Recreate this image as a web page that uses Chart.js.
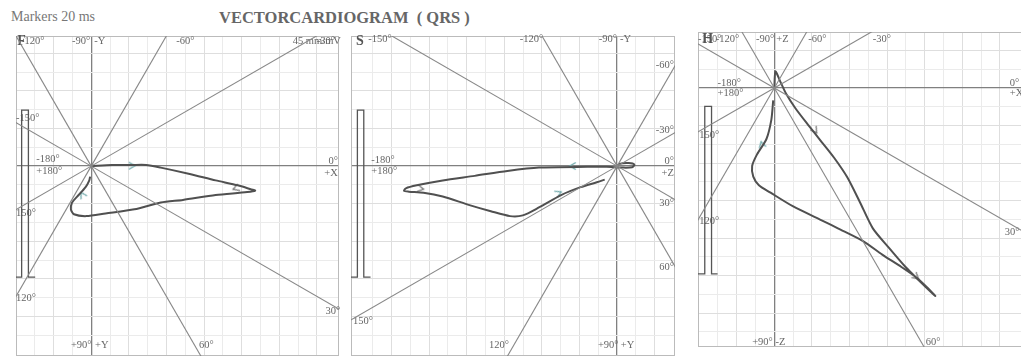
<!DOCTYPE html>
<html>
<head>
<meta charset="utf-8">
<script src="https://cdn.jsdelivr.net/npm/chart.js@4.4.0/dist/chart.umd.min.js"></script>
<style>
body { margin:0; width:1021px; height:356px; overflow:hidden; background:#fff; position:relative; font-family:"Liberation Serif", serif; }
canvas { position:absolute; }
#markers { position:absolute; left:11px; top:9px; font-size:14px; color:#777; }
#title { position:absolute; left:219px; top:8px; font-size:16.5px; font-weight:bold; color:#666; white-space:pre; }
</style>
</head>
<body>
<div id="markers">Markers 20 ms</div>
<div id="title">VECTORCARDIOGRAM  ( QRS )</div>
<canvas id="frontal" width="335" height="332" style="left:10px;top:30px"></canvas>
<canvas id="sagittal" width="336" height="332" style="left:345px;top:30px"></canvas>
<canvas id="horizontal" width="338" height="327" style="left:692px;top:26px"></canvas>
<script>
// angle lines drawn from the origin (0/90/180 are the axes)
const angles = [-150, -120, -60, -30, 30, 60, 120, 150];

// QRS loops, in grid units (y grows downward)
const frontalX = [0, 0.56, 1.08, 1.46, 1.85, 2.62, 3.31, 3.90, 4.26, 4.36, 4.15, 3.31, 2.44, 1.85, 1.15, 0.38, -0.13, -0.46, -0.54, -0.51, -0.38, -0.15, -0.05, -0.03];
const frontalY = [0, -0.03, -0.03, -0.03, 0.04, 0.21, 0.38, 0.51, 0.62, 0.65, 0.69, 0.77, 0.90, 0.97, 1.15, 1.26, 1.33, 1.28, 1.15, 0.97, 0.82, 0.56, 0.38, 0.28];

const sagittalX = [0, 0.06, 0.31, 0.46, 0.40, 0.15, -0.28, -0.79, -2.08, -2.92, -3.79, -4.64, -5.33, -5.62, -5.67, -5.54, -5.15, -4.64, -3.95, -3.36, -2.85, -2.51, -2.08, -1.49, -0.97, -0.54, -0.33];
const sagittalY = [0, -0.06, -0.08, -0.04, 0.03, 0.04, 0.02, 0.02, 0.04, 0.13, 0.26, 0.38, 0.51, 0.59, 0.66, 0.68, 0.71, 0.81, 1.03, 1.20, 1.33, 1.31, 1.10, 0.77, 0.56, 0.43, 0.36];

const horizX = [0, 0.03, 0.15, 0.31, 0.56, 0.92, 1.26, 1.59, 1.94, 2.28, 2.62, 3.05, 3.49, 3.82, 4.28, 4.08, 3.82, 3.38, 2.87, 2.36, 1.69, 1.33, 0.49, -0.10, -0.41, -0.56, -0.59, -0.46, -0.21, -0.08, -0.03];
const horizY = [0, -0.44, -0.19, 0.15, 0.54, 1.01, 1.44, 1.86, 2.38, 3.05, 3.74, 4.26, 4.77, 5.10, 5.54, 5.33, 5.08, 4.77, 4.44, 4.08, 3.74, 3.56, 3.15, 2.79, 2.59, 2.36, 2.08, 1.77, 1.36, 0.85, 0.33];

// calibration pulses
const pulseFX = [-2.0, -1.85, -1.85, -1.67, -1.67, -1.49];
const pulseSX = [-7.08, -6.91, -6.91, -6.74, -6.74, -6.56];
const pulseHX = [-2.03, -1.85, -1.85, -1.67, -1.67, -1.51];
const pulseFY = [2.95, 2.95, -1.49, -1.49, 2.95, 2.95];
const pulseHY = [4.95, 4.95, 0.49, 0.49, 4.95, 4.95];

// time markers: x, y, direction (deg), teal?
const markersF = [[1.08, -0.01, 0, 1], [-0.23, 0.77, -120, 1], [3.85, 0.59, 160, 0]];
const markersS = [[-1.18, 0.0, 180, 1], [-1.56, 0.72, -25, 1], [-5.23, 0.60, 10, 0]];
const markersH = [[1.08, 1.13, 55, 0], [-0.33, 1.51, -105, 1], [3.77, 5.03, 40, 0]];

// labels: text, x, y, align, bold
const labelsF = [
	["-120°", -1.87, -3.33], ["F", -1.97, -3.31, "left", 1], ["-90°", -0.51, -3.33], ["-Y", 0.08, -3.33],
	["-60°", 2.26, -3.33], ["45 mm/mV", 5.36, -3.33], ["-30°", 6.0, -3.33],
	["0°", 6.56, -0.13, "right"], ["+X", 6.56, 0.18, "right"],
	["-180°", -1.46, -0.18], ["+180°", -1.46, 0.15],
	["-150°", -2.0, -1.28], ["150°", -2.0, 1.26], ["120°", -2.0, 3.51],
	["30°", 6.23, 3.85], ["60°", 2.87, 4.77], ["+90°", -0.54, 4.77], ["+Y", 0.10, 4.77]
];
const labelsS = [
	["S", -6.95, -3.31, "left", 1], ["-150°", -6.62, -3.38], ["-120°", -2.59, -3.38],
	["-90°", -0.49, -3.38], ["-Y", 0.08, -3.38],
	["-60°", 1.51, -2.69, "right"], ["-30°", 1.51, -0.95, "right"],
	["0°", 1.51, -0.13, "right"], ["+Z", 1.51, 0.18, "right"],
	["-180°", -6.54, -0.15], ["+180°", -6.54, 0.15],
	["30°", 1.51, 1.0, "right"], ["60°", 1.51, 2.69, "right"],
	["+90°", -0.51, 4.77], ["+Y", 0.10, 4.77], ["120°", -3.41, 4.77], ["150°", -7.03, 4.13]
];
const labelsH = [
	["-150°", -2.03, -1.31], ["H", -1.92, -1.28, "left", 1], ["-120°", -1.56, -1.31],
	["-90°", -0.49, -1.31], ["+Z", 0.05, -1.31], ["-60°", 0.90, -1.31], ["-30°", 2.62, -1.31],
	["-180°", -1.51, -0.13], ["+180°", -1.51, 0.15],
	["150°", -2.0, 1.26], ["120°", -2.0, 3.54], ["30°", 6.13, 3.85],
	["0°", 6.26, -0.13], ["+X", 6.26, 0.15],
	["+90°", -0.59, 6.77], ["-Z", 0.03, 6.77], ["60°", 4.03, 6.77]
];

function chevron(color) {
	const c = document.createElement("canvas");
	c.width = 10;
	c.height = 10;
	const g = c.getContext("2d");
	g.strokeStyle = color;
	g.lineWidth = 1.4;
	g.beginPath();
	g.moveTo(2, 1.5);
	g.lineTo(8, 5);
	g.lineTo(2, 8.5);
	g.stroke();
	return c;
}
const tealArrow = chevron("#6fa9ab");
const grayArrow = chevron("#777");

const zip = (xs, ys) => xs.map((x, i) => ({ x: x, y: ys[i] }));

const panelPlugin = {
	id: "panel",
	beforeDatasetsDraw(chart, args, opts) {
		const ctx = chart.ctx;
		const a = chart.chartArea;
		const sx = chart.scales.x, sy = chart.scales.y;
		ctx.save();
		ctx.strokeStyle = "#bbb";
		ctx.lineWidth = 1;
		ctx.strokeRect(a.left + 0.5, a.top + 0.5, a.right - a.left - 1, a.bottom - a.top - 1);
		ctx.textBaseline = "middle";
		for (const l of opts.labels) {
			ctx.font = l[4] ? 'bold 14px "Liberation Serif"' : '10.5px "Liberation Serif"';
			ctx.fillStyle = l[4] ? "#555" : "#666";
			ctx.textAlign = l[3] || "left";
			ctx.fillText(l[0], sx.getPixelForValue(l[1]), sy.getPixelForValue(l[2]));
		}
		ctx.restore();
	},
};

function gridColor(c) {
	const v = c.tick.value;
	if (Math.abs(v) < 1e-9) return "#808080";
	if (Math.abs(v * 2 - Math.round(v * 2)) > 1e-6) return "rgba(0,0,0,0)";
	return Math.abs(v - Math.round(v)) < 1e-6 ? "#dedede" : "#ebebeb";
}

function makePanel(id, xr, yr, loopX, loopY, pX, pY, markers, labels) {
	const datasets = angles.map((a) => ({
		data: [{ x: 0, y: 0 }, { x: 20 * Math.cos((a * Math.PI) / 180), y: 20 * Math.sin((a * Math.PI) / 180) }],
		showLine: true,
		borderColor: "#888",
		borderWidth: 1.1,
		pointRadius: 0,
	}));
	datasets.push({
		data: zip(pX, pY),
		showLine: true,
		borderColor: "#555",
		borderWidth: 1.3,
		pointRadius: 0,
	});
	datasets.push({
		data: zip(loopX, loopY),
		showLine: true,
		borderColor: "#505050",
		borderWidth: 2,
		tension: 0.25,
		pointRadius: 0,
	});
	datasets.push({
		data: markers.map((m) => ({ x: m[0], y: m[1] })),
		pointStyle: markers.map((m) => (m[3] ? tealArrow : grayArrow)),
		rotation: markers.map((m) => m[2]),
		pointRadius: 5,
	});
	const axis = (r, rev) => ({
		type: "linear",
		min: r[0],
		max: r[1],
		reverse: rev,
		ticks: { display: false, stepSize: 0.5 },
		grid: { color: gridColor, lineWidth: (c) => (Math.abs(c.tick.value) < 1e-9 ? 1.3 : 1), drawTicks: false },
		border: { display: false },
	});
	return new Chart(document.getElementById(id), {
		type: "scatter",
		data: { datasets: datasets },
		options: {
			responsive: false,
			animation: false,
			layout: { padding: 0 },
			scales: { x: axis(xr, false), y: axis(yr, true) },
			plugins: { legend: { display: false }, tooltip: { enabled: false }, panel: { labels: labels } },
		},
		plugins: [panelPlugin],
	});
}

makePanel("frontal", [-2.0, 6.59], [-3.46, 5.05], frontalX, frontalY, pulseFX, pulseFY, markersF, labelsF);
makePanel("sagittal", [-7.08, 1.54], [-3.46, 5.05], sagittalX, sagittalY, pulseSX, pulseFY, markersS, labelsS);
makePanel("horizontal", [-2.03, 6.64], [-1.49, 6.90], horizX, horizY, pulseHX, pulseHY, markersH, labelsH);
</script>
</body>
</html>
